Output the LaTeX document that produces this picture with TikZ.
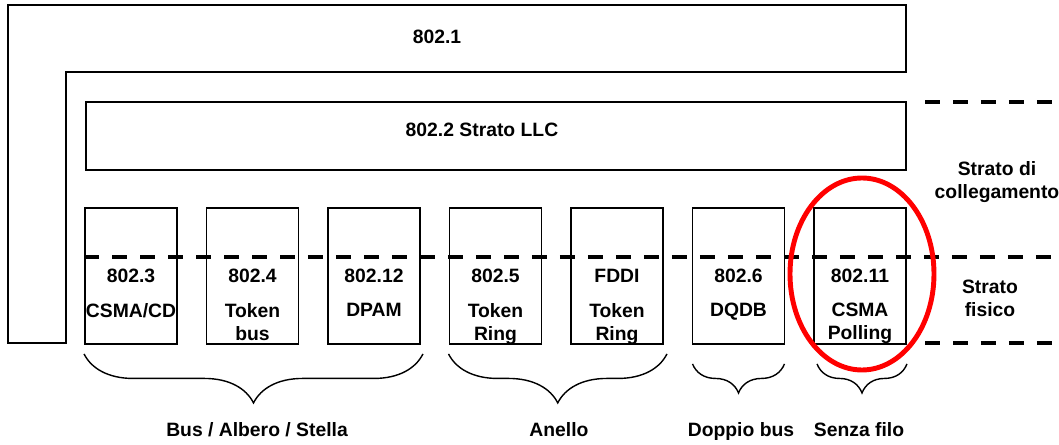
\documentclass[tikz,border=0pt]{standalone}
\usepackage{fontspec}
\setmainfont{Liberation Sans}
\usetikzlibrary{decorations.pathreplacing, calc}
\definecolor{MarkRed}{rgb}{1, 0, 0}

\begin{document}
\begin{tikzpicture}[
    x=0.02cm, y=-0.02cm,
    font=\fontsize{11}{13}\selectfont\bfseries,
    frame/.style={draw, line width=1.1pt, inner sep=0pt},
    stdbox/.style={frame, minimum width=1.84cm, minimum height=2.72cm},
    desc/.style={anchor=north, align=center, inner sep=0pt},
    topo/.style={anchor=base, inner sep=0pt},
    sep/.style={line width=2.3pt, dash pattern=on 0.3cm off 0.26cm},
    grp/.style={decorate, decoration={brace, mirror, amplitude=#1}, line width=0.8pt},
]
\useasboundingbox (0,0) rectangle (1059,445);

% ---- 802.1 e LLC ----
\draw[frame] (8,5) -- (906,5) -- (906,72) -- (66,72) -- (66,343) -- (8,343) -- cycle;
\node (t1) at (437,37) {802.1};
\node[frame, minimum width=16.4cm, minimum height=1.36cm] (llc) at (496,136) {};
\node (t2) at (482,130) {802.2 Strato LLC};

% ---- standard MAC / fisico ----
\foreach \i/\num/\txt in {0/802.3/{CSMA/CD}, 1/802.4/{Token\\bus}, 2/802.12/DPAM,
    3/802.5/{Token\\Ring}, 4/FDDI/{Token\\Ring}, 5/802.6/DQDB, 6/802.11/{CSMA\\Polling}}{
    \node[stdbox] (b\i) at (131+121.5*\i,276) {};
    \node (n\i) at (b\i.center) {\num};
    \node[desc] (d\i) at ($(b\i.center)+(0,27)$) {\txt};
}

% ---- separatori ----
\draw[sep] (925,102) -- (1080,102);
\draw[sep] (b0.west |- 0,257) -- (1080,257);
\draw[sep] (925,343) -- (1080,343);
\node[align=center] (link) at (997,182) {Strato di\\collegamento};
\node[align=center] (phys) at (990,298) {Strato\\fisico};

% ---- topologie ----
\draw[grp=0.98cm] ($(b0.south west)+(0,9)$) -- ($(b2.south east)+(2,9)$);
\draw[grp=0.98cm] ($(b3.south west)+(0,9)$) -- ($(b4.south east)+(3,9)$);
\draw[grp=0.58cm] ($(b5.south west)+(1,19)$) -- ($(b5.south east)+(-1,19)$);
\draw[grp=0.58cm] ($(b6.south west)+(4,19)$) -- ($(b6.south east)+(0,19)$);
\node[topo] (g1) at (257,437) {Bus / Albero / Stella};
\node[topo] (g2) at (559,437) {Anello};
\node[topo] (g3) at (741,437) {Doppio bus};
\node[topo] (g4) at (859,437) {Senza filo};

\draw[MarkRed, line width=2.8pt] (862,274) ellipse [x radius=72, y radius=96];

\end{tikzpicture}
\end{document}
